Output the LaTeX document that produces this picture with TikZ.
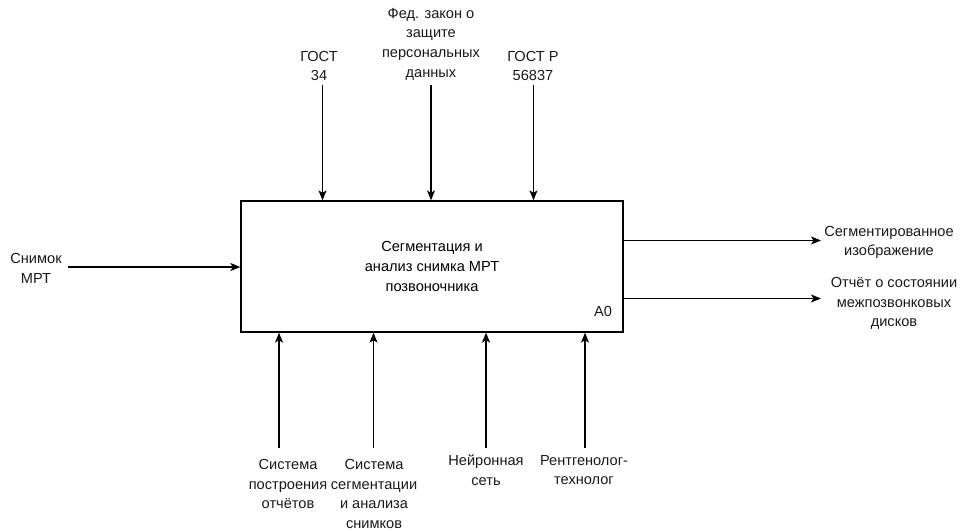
\documentclass[tikz,border=0pt]{standalone}
\usepackage{fontspec}
\setmainfont{Liberation Sans}
\usetikzlibrary{arrows.meta}
\begin{document}
\begin{tikzpicture}[x=1pt,y=-1pt,
  lbl/.style={align=center,inner sep=0pt,font=\fontsize{14.6}{19.6}\selectfont,text=black!90},
  flow/.style={line width=1.3pt,-{Stealth[length=10pt,width=8pt,inset=2.5pt]}},
  func/.style={draw,line width=1.3pt,minimum width=382pt,minimum height=131pt,inner sep=0pt,
    align=center,font=\fontsize{14.6}{19.6}\selectfont}]
\useasboundingbox (0,0) rectangle (960,531);

% activity box
\node[func] (box) at (432,266.5) {Сегментация и\\анализ снимка МРТ\\позвоночника};
\node[lbl] (num) at (603,311) {A0};

% controls (top)
\node[lbl] (gost34) at (319,66) {ГОСТ\\34};
\node[lbl] (fz) at (431,44) {Фед. закон о\\защите\\персональных\\данных};
\node[lbl] (gostr) at (533,66) {ГОСТ Р\\56837};
\coordinate (c1) at (322.5,85);
\coordinate (c2) at (431,85);
\coordinate (c3) at (533.5,85);
\draw[flow] (c1) -- (c1 |- box.north);
\draw[flow] (c2) -- (c2 |- box.north);
\draw[flow] (c3) -- (c3 |- box.north);

% input (left)
\node[lbl] (mri) at (36,268.5) {Снимок\\МРТ};
\coordinate (i1) at (68,267);
\draw[flow] (i1) -- (i1 -| box.west);

% outputs (right)
\node[lbl] (segout) at (889,242.5) {Сегментированное\\изображение};
\node[lbl] (repout) at (894,303.5) {Отчёт о состоянии\\межпозвонковых\\дисков};
\coordinate (o1) at (821,240.5);
\coordinate (o2) at (821,298.5);
\draw[flow] (o1 -| box.east) -- (o1);
\draw[flow] (o2 -| box.east) -- (o2);

% mechanisms (bottom)
\node[lbl] (m1) at (288,484) {Система\\построения\\отчётов};
\node[lbl] (m2) at (374,494) {Система\\сегментации\\и анализа\\снимков};
\node[lbl] (m3) at (486,470) {Нейронная\\сеть};
\node[lbl] (m4) at (584,470) {Рентгенолог-\\технолог};
\coordinate (b1) at (279,448);
\coordinate (b2) at (373.5,448);
\coordinate (b3) at (486,448);
\coordinate (b4) at (585,448);
\draw[flow] (b1) -- (b1 |- box.south);
\draw[flow] (b2) -- (b2 |- box.south);
\draw[flow] (b3) -- (b3 |- box.south);
\draw[flow] (b4) -- (b4 |- box.south);
\end{tikzpicture}
\end{document}
